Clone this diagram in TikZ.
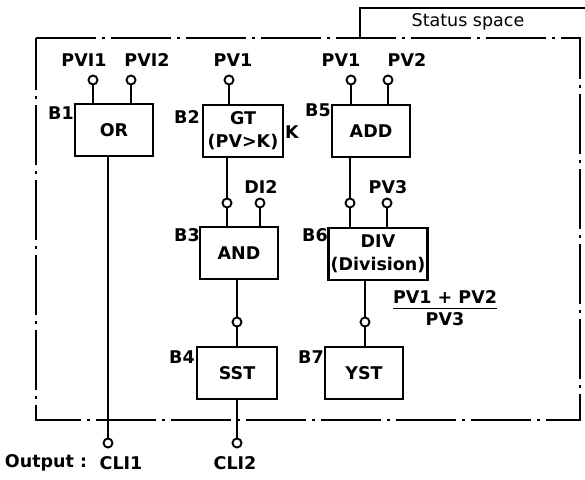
\documentclass[tikz,border=0pt]{standalone}
\usepackage{fontspec}
\setmainfont{DejaVu Sans}

\begin{document}
\begin{tikzpicture}[x=1pt, y=-1pt, line width=2.4pt, block/.style = {draw, rectangle, line width=2.4pt, minimum width=78pt, minimum height=52pt, inner sep=1pt, align=center, font=\fontsize{17.5}{23}\selectfont\bfseries}, pin/.style = {draw, circle, line width=1.9pt, inner sep=0pt, minimum size=9pt, fill=white}, lbl/.style = {inner sep=0pt, font=\fontsize{17.5}{22}\selectfont\bfseries}, frame/.style = {line width=2.4pt, dash pattern=on 60pt off 6pt on 3pt off 6pt}]

    \useasboundingbox (0,0) rectangle (585,479);

    % 1. Ramka przestrzeni stanu
    \draw[frame] (36,38) -- (580,38) -- (580,420) -- (36,420) -- cycle;
    \draw (360,38) -- (360,8) -- (585,8);
    \node[lbl, font=\fontsize{17.5}{22}\selectfont] (status) at (468,22) {Status space};

    % 2. Bloki
    \node[block] (b1) at (114,130) {OR};
    \node[block, minimum width=80pt] (b2) at (243,131) {GT\\(PV>K)};
    \node[block] (b3) at (239,253) {AND};
    \node[block, minimum width=80pt] (b4) at (237,373) {SST};
    \node[block] (b5) at (371,131) {ADD};
    \node[block, minimum width=99pt] (b6) at (378,254) {DIV\\(Division)};
    \node[block] (b7) at (364,373) {YST};

    % 3. Zaciski
    \node[pin] (p11) at (93,80) {};
    \node[pin] (p12) at (131,80) {};
    \node[pin] (p21) at (229,80) {};
    \node[pin] (p31) at (227,203) {};
    \node[pin] (p32) at (260,203) {};
    \node[pin] (p41) at (237,322) {};
    \node[pin] (p51) at (351,80) {};
    \node[pin] (p52) at (388,80) {};
    \node[pin] (p61) at (350,203) {};
    \node[pin] (p62) at (387,203) {};
    \node[pin] (p71) at (365,322) {};
    \node[pin] (o1) at (108,443) {};
    \node[pin] (o2) at (237,443) {};

    % 4. Połączenia
    \draw (p11) -- (p11 |- b1.north);
    \draw (p12) -- (p12 |- b1.north);
    \draw (o1 |- b1.south) -- (o1);
    \draw (p21) -- (p21 |- b2.north);
    \draw (p31 |- b2.south) -- (p31);
    \draw (p31) -- (p31 |- b3.north);
    \draw (p32) -- (p32 |- b3.north);
    \draw (p41 |- b3.south) -- (p41);
    \draw (p41) -- (p41 |- b4.north);
    \draw (o2 |- b4.south) -- (o2);
    \draw (p51) -- (p51 |- b5.north);
    \draw (p52) -- (p52 |- b5.north);
    \draw (p61 |- b5.south) -- (p61);
    \draw (p61) -- (p61 |- b6.north);
    \draw (p62) -- (p62 |- b6.north);
    \draw (p71 |- b6.south) -- (p71);
    \draw (p71) -- (p71 |- b7.north);

    % 5. Opisy
    \node[lbl] (t11) at (84,60) {PVI1};
    \node[lbl] (t12) at (147,60) {PVI2};
    \node[lbl] (t21) at (233,60) {PV1};
    \node[lbl] (t32) at (261,187) {DI2};
    \node[lbl] (t51) at (341,60) {PV1};
    \node[lbl] (t52) at (407,60) {PV2};
    \node[lbl] (t62) at (388,187) {PV3};
    \node[lbl] (n1) at (61,113) {B1};
    \node[lbl] (n2) at (187,117) {B2};
    \node[lbl] (n3) at (187,235) {B3};
    \node[lbl] (n4) at (182,357) {B4};
    \node[lbl] (n5) at (318,110) {B5};
    \node[lbl] (n6) at (315,235) {B6};
    \node[lbl] (n7) at (311,357) {B7};
    \node[lbl] (k) at (292,132) {K};
    \node[lbl] (ratio) at (445,310) {\begin{tabular}{@{}c@{}}PV1 + PV2\\[-2pt]\hline\rule{0pt}{17pt}PV3\end{tabular}};
    \node[lbl] (out) at (46,463) {Output :};
    \node[lbl] (c1) at (121,463) {CLI1};
    \node[lbl] (c2) at (235,463) {CLI2};
\end{tikzpicture}
\end{document}
